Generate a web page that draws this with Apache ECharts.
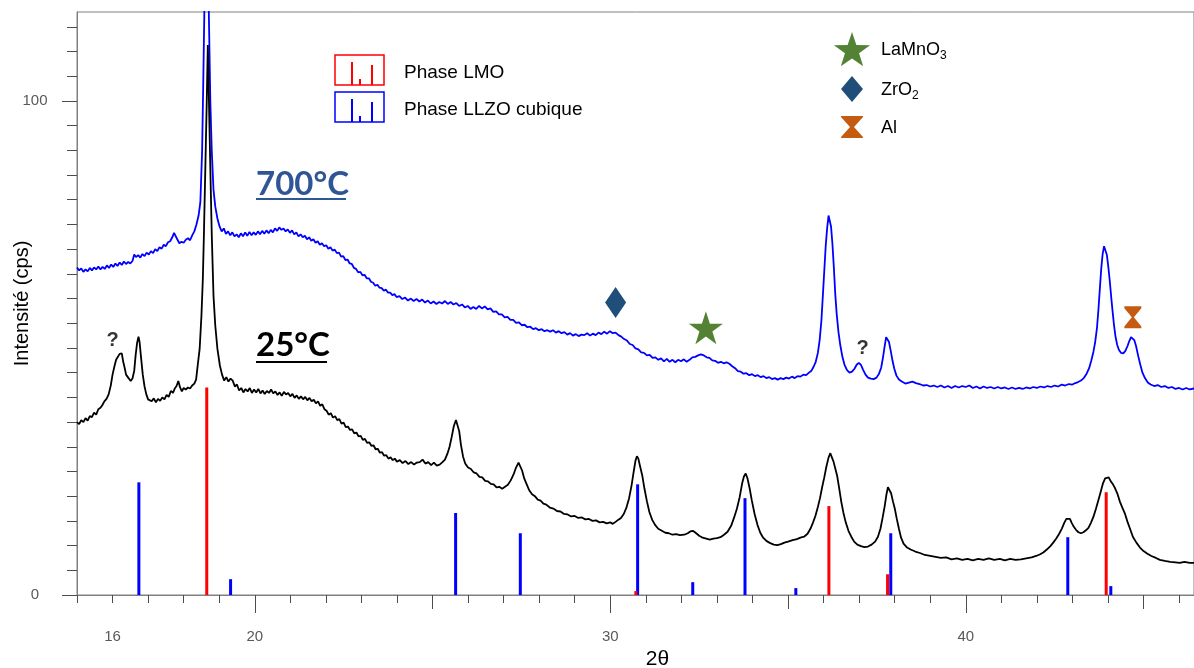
<!DOCTYPE html>
<html>
<head>
<meta charset="utf-8">
<script src="https://cdn.jsdelivr.net/npm/echarts@6/dist/echarts.min.js"></script>
<style>
  html, body { margin: 0; padding: 0; background: #ffffff; }
  #chart { width: 1194px; height: 668px; }
</style>
</head>
<body>
<div id="chart"></div>
<script>
// XRD scan of the pellet at 25 °C, [2θ (°), intensity (cps)]
const scan25 = [
  [15.00,35.0],[15.06,34.6],[15.12,35.4],[15.18,35.0],[15.24,35.8],[15.30,35.3],[15.36,36.2],[15.42,36.0],[15.48,36.9],[15.54,36.5],
  [15.60,37.6],[15.66,37.9],[15.71,38.4],[15.77,39.2],[15.83,39.7],[15.89,40.6],[15.95,42.4],[16.00,44.6],[16.05,46.2],[16.10,47.6],
  [16.15,47.9],[16.20,48.8],[16.23,48.4],[16.26,48.9],[16.30,47.2],[16.34,46.0],[16.38,44.6],[16.44,44.0],[16.51,43.3],[16.56,43.8],
  [16.61,45.4],[16.65,48.6],[16.69,51.0],[16.73,52.3],[16.76,51.2],[16.80,48.2],[16.85,44.6],[16.90,42.2],[16.95,40.6],[17.00,39.6],
  [17.05,39.9],[17.10,39.2],[17.16,39.8],[17.22,39.0],[17.28,39.7],[17.34,39.3],[17.40,40.0],[17.46,39.6],[17.52,40.5],[17.58,40.1],
  [17.64,41.3],[17.70,40.9],[17.75,41.8],[17.80,42.3],[17.85,43.3],[17.90,42.0],[17.95,41.2],[18.00,41.9],[18.06,41.6],[18.12,42.0],
  [18.18,41.8],[18.24,42.4],[18.30,42.8],[18.35,43.6],[18.40,46.8],[18.45,49.8],[18.50,56.5],[18.54,64.0],[18.57,73.0],[18.61,86.5],
  [18.65,100.0],[18.68,111.3],[18.71,100.5],[18.75,86.5],[18.79,73.1],[18.84,60.5],[18.89,54.5],[18.95,49.8],[19.02,46.4],[19.08,44.6],
  [19.14,43.4],[19.20,44.1],[19.26,43.2],[19.32,43.8],[19.38,43.4],[19.44,42.2],[19.50,42.6],[19.56,41.4],[19.62,41.9],[19.68,41.0],
  [19.74,41.7],[19.80,41.2],[19.86,41.9],[19.92,40.9],[19.98,41.6],[20.04,41.0],[20.10,41.7],[20.16,40.8],[20.22,41.4],[20.28,40.7],
  [20.34,41.3],[20.40,40.9],[20.46,41.6],[20.52,40.8],[20.58,41.2],[20.64,40.5],[20.70,41.0],[20.76,40.3],[20.82,41.1],[20.88,40.6],
  [20.94,40.9],[21.00,40.2],[21.06,40.7],[21.12,39.9],[21.18,40.4],[21.24,39.7],[21.30,40.2],[21.36,39.6],[21.42,40.1],[21.48,39.4],
  [21.54,39.9],[21.60,39.2],[21.66,39.5],[21.72,38.8],[21.78,39.2],[21.84,38.3],[21.90,38.6],[21.96,37.6],[22.02,37.3],[22.08,36.5],
  [22.14,36.8],[22.20,35.9],[22.26,36.2],[22.32,35.4],[22.38,35.6],[22.44,34.7],[22.50,34.9],[22.56,34.0],[22.62,34.1],[22.68,33.4],
  [22.74,33.5],[22.80,32.7],[22.86,32.9],[22.92,32.1],[22.98,32.2],[23.04,31.4],[23.10,31.6],[23.16,30.8],[23.22,30.9],[23.28,30.2],
  [23.34,30.3],[23.40,29.5],[23.46,29.6],[23.52,28.8],[23.58,28.9],[23.64,28.2],[23.70,28.3],[23.76,27.6],[23.82,27.9],[23.88,27.3],
  [23.94,27.6],[24.00,27.0],[24.08,27.3],[24.16,26.7],[24.24,27.1],[24.32,26.5],[24.40,26.9],[24.48,26.4],[24.56,26.8],[24.64,26.9],
  [24.72,27.4],[24.80,26.6],[24.88,26.9],[24.96,26.3],[25.04,26.8],[25.12,26.2],[25.20,26.4],[25.28,26.9],[25.35,27.4],[25.42,28.6],
  [25.48,30.0],[25.54,32.0],[25.60,34.2],[25.66,35.4],[25.70,35.0],[25.75,33.2],[25.80,30.4],[25.86,28.0],[25.92,26.6],[26.00,25.8],
  [26.08,25.5],[26.16,24.8],[26.24,24.6],[26.32,23.9],[26.40,23.8],[26.48,23.1],[26.56,23.0],[26.64,22.5],[26.72,22.4],[26.80,21.8],
  [26.88,21.9],[26.96,21.5],[27.04,21.9],[27.12,22.3],[27.20,23.2],[27.28,24.4],[27.35,25.8],[27.42,26.8],[27.47,26.6],[27.52,25.2],
  [27.58,23.6],[27.65,22.4],[27.72,21.2],[27.80,20.4],[27.88,20.0],[27.96,19.3],[28.04,19.1],[28.12,18.5],[28.20,18.3],[28.30,17.7],
  [28.40,17.5],[28.50,17.0],[28.60,16.9],[28.70,16.4],[28.80,16.3],[28.90,15.9],[29.00,16.0],[29.10,15.6],[29.20,15.7],[29.30,15.3],
  [29.40,15.4],[29.50,15.0],[29.60,15.1],[29.70,14.7],[29.80,14.8],[29.90,14.5],[30.00,14.7],[30.07,14.4],[30.15,14.8],[30.22,15.2],
  [30.30,15.6],[30.38,16.4],[30.46,17.8],[30.53,19.6],[30.60,22.2],[30.66,25.0],[30.71,27.2],[30.75,28.1],[30.79,27.6],[30.84,26.0],
  [30.90,24.2],[30.96,21.6],[31.03,19.0],[31.10,16.8],[31.18,15.2],[31.26,14.2],[31.35,13.4],[31.45,13.0],[31.55,12.6],[31.65,12.5],
  [31.75,12.2],[31.85,12.3],[31.96,12.1],[32.08,12.2],[32.18,12.5],[32.26,12.9],[32.32,13.0],[32.40,12.6],[32.50,12.0],[32.60,11.6],
  [32.70,11.4],[32.80,11.2],[32.90,11.4],[33.00,11.5],[33.10,11.7],[33.20,12.2],[33.30,12.8],[33.40,14.0],[33.48,15.6],[33.56,17.4],
  [33.64,19.8],[33.71,22.6],[33.76,24.0],[33.81,24.6],[33.86,23.6],[33.92,21.6],[33.98,19.2],[34.06,16.4],[34.14,14.2],[34.22,12.6],
  [34.30,11.6],[34.40,10.9],[34.50,10.5],[34.60,10.2],[34.70,10.1],[34.80,10.3],[34.90,10.6],[35.00,10.8],[35.13,11.1],[35.25,11.3],
  [35.35,11.6],[35.45,11.8],[35.55,12.4],[35.63,13.4],[35.70,14.6],[35.77,16.0],[35.84,17.8],[35.90,19.6],[35.96,21.8],[36.02,23.8],
  [36.08,26.0],[36.14,27.8],[36.19,28.7],[36.23,28.4],[36.28,27.0],[36.33,25.6],[36.38,24.2],[36.44,21.6],[36.50,18.8],[36.56,16.6],
  [36.62,14.8],[36.70,13.0],[36.78,11.8],[36.86,10.8],[36.95,10.2],[37.05,9.9],[37.15,9.7],[37.25,9.8],[37.35,10.2],[37.45,10.8],
  [37.53,11.8],[37.60,13.4],[37.66,15.6],[37.72,18.0],[37.77,20.4],[37.81,21.8],[37.85,21.6],[37.90,20.6],[37.95,19.0],[38.00,17.6],
  [38.06,15.4],[38.12,13.4],[38.18,11.6],[38.25,10.4],[38.35,9.6],[38.45,9.2],[38.58,8.8],[38.71,8.5],[38.85,8.1],[39.00,7.9],
  [39.15,7.7],[39.30,7.5],[39.45,7.6],[39.60,7.2],[39.75,7.4],[39.90,7.1],[40.05,7.3],[40.20,7.0],[40.35,7.3],[40.50,7.1],
  [40.65,7.4],[40.80,7.1],[40.96,7.3],[41.10,7.0],[41.25,7.3],[41.40,7.1],[41.55,7.2],[41.70,7.4],[41.85,7.6],[41.98,7.9],
  [42.08,8.2],[42.18,8.6],[42.28,9.2],[42.38,9.9],[42.46,10.6],[42.54,11.4],[42.62,12.3],[42.70,13.4],[42.77,14.6],[42.83,15.4],
  [42.88,15.8],[42.93,15.4],[42.98,14.6],[43.04,13.8],[43.10,13.2],[43.17,12.7],[43.24,12.5],[43.31,12.7],[43.38,13.1],[43.45,13.6],
  [43.52,14.6],[43.59,15.8],[43.66,17.4],[43.73,19.2],[43.80,21.0],[43.86,22.6],[43.92,23.6],[43.97,24.0],[44.02,23.8],[44.08,23.0],
  [44.14,22.4],[44.20,21.6],[44.27,20.4],[44.34,18.8],[44.41,17.6],[44.48,16.4],[44.55,14.8],[44.62,13.4],[44.70,11.8],[44.80,10.6],
  [44.90,9.6],[45.00,8.9],[45.10,8.4],[45.22,7.9],[45.35,7.5],[45.46,7.1],[45.60,6.9],[45.75,6.7],[45.90,6.6],[46.02,6.5],
  [46.15,6.7],[46.30,6.5],[46.42,6.5]
];

// XRD scan after annealing at 700 °C, [2θ (°), intensity (cps)]
const scan700 = [
  [15.00,66.3],[15.06,65.7],[15.12,66.1],[15.18,65.4],[15.24,65.9],[15.30,65.5],[15.36,66.2],[15.42,65.7],[15.48,66.3],[15.54,65.9],
  [15.60,66.5],[15.66,65.9],[15.72,66.4],[15.78,66.0],[15.84,66.7],[15.90,66.2],[15.96,66.9],[16.02,66.4],[16.08,67.1],[16.14,66.6],
  [16.20,67.3],[16.26,66.8],[16.32,67.5],[16.38,67.0],[16.44,67.4],[16.50,67.1],[16.56,67.6],[16.61,68.9],[16.66,68.4],[16.72,68.8],
  [16.78,68.3],[16.84,69.0],[16.90,68.6],[16.96,69.3],[17.02,68.9],[17.08,69.6],[17.14,69.2],[17.20,70.0],[17.26,69.6],[17.32,70.4],
  [17.38,70.1],[17.44,70.9],[17.50,70.6],[17.56,71.4],[17.62,71.6],[17.68,72.4],[17.73,73.3],[17.77,73.0],[17.82,72.0],[17.88,71.2],
  [17.94,71.5],[18.00,71.3],[18.06,71.9],[18.12,72.2],[18.18,71.8],[18.24,72.8],[18.30,73.6],[18.36,75.0],[18.42,76.8],[18.47,79.5],
  [18.52,90.0],[18.55,103.0],[18.58,117.0],[18.61,135.0],[18.645,160.0],[18.68,135.0],[18.71,117.0],[18.75,100.0],[18.79,90.0],[18.84,82.0],
  [18.89,78.6],[18.95,76.2],[19.01,74.6],[19.07,73.6],[19.13,74.2],[19.19,73.1],[19.25,73.6],[19.31,72.8],[19.37,73.4],[19.43,72.6],
  [19.49,73.0],[19.55,72.4],[19.61,73.2],[19.67,72.6],[19.73,73.4],[19.79,72.7],[19.85,73.5],[19.91,72.8],[19.97,73.4],[20.03,72.9],
  [20.09,73.6],[20.15,73.0],[20.21,73.7],[20.27,73.1],[20.33,73.8],[20.39,73.2],[20.45,73.9],[20.51,73.4],[20.57,74.2],[20.63,73.7],
  [20.69,74.4],[20.75,73.9],[20.81,74.2],[20.87,73.6],[20.93,74.0],[20.99,73.3],[21.05,73.8],[21.11,73.0],[21.17,73.4],[21.23,72.6],
  [21.29,73.0],[21.35,72.4],[21.41,72.7],[21.47,72.0],[21.53,72.4],[21.59,71.7],[21.65,72.0],[21.71,71.3],[21.77,71.6],[21.83,70.9],
  [21.89,71.2],[21.95,70.6],[22.01,70.8],[22.07,70.1],[22.13,70.4],[22.19,69.7],[22.25,69.9],[22.31,69.2],[22.37,69.3],[22.43,68.5],
  [22.49,68.6],[22.55,67.8],[22.61,67.9],[22.67,67.1],[22.73,67.0],[22.79,66.2],[22.85,66.0],[22.91,65.3],[22.97,65.4],[23.03,64.7],
  [23.09,64.8],[23.15,64.1],[23.21,64.1],[23.27,63.4],[23.33,63.2],[23.39,62.6],[23.45,62.8],[23.51,62.2],[23.57,62.1],[23.63,61.6],
  [23.69,61.8],[23.75,61.2],[23.81,61.2],[23.87,60.7],[23.93,60.9],[23.99,60.3],[24.07,60.5],[24.15,59.9],[24.23,60.2],[24.31,59.6],
  [24.39,60.0],[24.47,59.5],[24.55,59.9],[24.63,59.4],[24.71,59.8],[24.79,59.2],[24.87,59.6],[24.95,59.0],[25.03,59.4],[25.11,58.9],
  [25.19,59.3],[25.27,59.0],[25.35,59.5],[25.43,58.9],[25.51,59.3],[25.59,58.8],[25.67,59.1],[25.75,58.5],[25.83,58.8],[25.91,58.2],
  [25.99,58.5],[26.07,57.9],[26.15,58.3],[26.23,57.9],[26.31,58.5],[26.39,58.0],[26.47,58.4],[26.55,57.8],[26.63,58.0],[26.71,57.3],
  [26.79,57.4],[26.87,56.8],[26.95,56.8],[27.03,56.2],[27.11,56.3],[27.19,55.7],[27.27,55.7],[27.35,55.1],[27.43,55.2],[27.51,54.6],
  [27.59,54.7],[27.67,54.2],[27.75,54.3],[27.83,53.8],[27.91,54.0],[27.99,53.6],[28.07,53.8],[28.15,53.4],[28.23,53.6],[28.31,53.3],
  [28.39,53.6],[28.47,53.1],[28.55,53.4],[28.63,53.0],[28.71,53.2],[28.79,52.7],[28.87,53.0],[28.95,52.5],[29.03,52.8],[29.11,52.4],
  [29.19,52.7],[29.27,52.6],[29.35,53.0],[29.43,52.5],[29.51,52.9],[29.59,52.6],[29.67,53.1],[29.75,52.8],[29.83,53.3],[29.91,52.9],
  [29.99,53.4],[30.07,53.0],[30.15,53.1],[30.23,52.6],[30.31,52.3],[30.39,51.8],[30.47,51.5],[30.55,50.8],[30.63,50.6],[30.71,49.9],
  [30.79,49.7],[30.87,49.1],[30.95,49.0],[31.03,48.5],[31.11,48.6],[31.19,48.0],[31.27,48.1],[31.35,47.6],[31.43,47.9],[31.51,47.3],
  [31.59,47.8],[31.67,47.2],[31.75,47.6],[31.83,47.1],[31.91,47.6],[31.99,47.3],[32.07,47.7],[32.15,47.2],[32.23,47.6],[32.31,48.1],
  [32.39,48.2],[32.47,48.5],[32.55,48.7],[32.63,48.5],[32.71,48.1],[32.79,48.0],[32.87,47.5],[32.95,47.4],[33.03,47.0],[33.11,47.2],
  [33.19,46.9],[33.27,47.1],[33.35,46.8],[33.43,46.3],[33.51,45.9],[33.59,45.3],[33.67,45.2],[33.75,44.8],[33.83,44.9],[33.91,44.5],
  [33.99,44.7],[34.07,44.3],[34.15,44.5],[34.23,44.1],[34.31,44.3],[34.39,43.9],[34.47,44.1],[34.55,43.7],[34.63,43.9],[34.71,43.6],
  [34.79,43.9],[34.87,43.7],[34.95,44.0],[35.03,43.8],[35.11,44.2],[35.19,43.9],[35.27,44.3],[35.35,44.2],[35.43,44.6],[35.51,44.5],
  [35.59,45.0],[35.66,45.4],[35.72,46.2],[35.78,47.2],[35.84,49.0],[35.89,51.6],[35.94,55.6],[35.98,60.6],[36.02,65.6],[36.06,70.6],
  [36.10,74.2],[36.14,76.8],[36.17,76.6],[36.21,74.6],[36.25,71.0],[36.29,66.2],[36.33,60.8],[36.37,56.8],[36.42,53.2],[36.47,50.6],
  [36.53,48.2],[36.59,46.6],[36.66,45.5],[36.73,45.0],[36.80,45.2],[36.87,45.8],[36.93,46.6],[36.99,47.0],[37.05,46.6],[37.11,45.6],
  [37.18,44.6],[37.25,44.0],[37.33,43.8],[37.41,43.7],[37.49,44.0],[37.56,44.8],[37.62,46.0],[37.67,48.0],[37.72,50.4],[37.76,52.2],
  [37.80,52.4],[37.84,51.2],[37.89,49.4],[37.94,47.4],[37.99,45.8],[38.05,44.4],[38.12,43.6],[38.20,43.2],[38.30,42.8],[38.40,43.0],
  [38.50,43.2],[38.60,42.9],[38.70,42.7],[38.80,42.4],[38.90,42.5],[39.00,42.2],[39.10,42.4],[39.20,42.1],[39.30,42.4],[39.40,42.0],
  [39.50,42.3],[39.60,41.9],[39.70,42.3],[39.80,42.0],[39.90,42.3],[40.00,42.1],[40.10,42.4],[40.20,41.9],[40.30,42.2],[40.40,41.8],
  [40.50,42.2],[40.60,41.9],[40.70,42.1],[40.80,41.8],[40.90,42.1],[41.00,41.8],[41.10,42.0],[41.20,41.7],[41.30,42.0],[41.40,41.7],
  [41.50,41.9],[41.60,41.7],[41.70,42.0],[41.80,41.8],[41.90,42.1],[42.00,41.9],[42.10,42.2],[42.20,42.0],[42.30,42.3],[42.40,42.1],
  [42.50,42.4],[42.60,42.2],[42.70,42.6],[42.80,42.4],[42.90,42.7],[43.00,42.6],[43.08,42.9],[43.16,43.1],[43.24,43.4],[43.32,43.9],
  [43.40,44.8],[43.47,45.9],[43.53,47.4],[43.59,49.2],[43.64,51.2],[43.69,54.0],[43.73,57.6],[43.77,61.8],[43.81,66.0],[43.85,69.0],
  [43.89,70.6],[43.93,70.4],[43.97,68.8],[44.01,66.4],[44.05,63.6],[44.09,60.4],[44.13,57.4],[44.17,54.6],[44.21,52.4],[44.26,50.6],
  [44.31,49.6],[44.37,49.0],[44.43,48.9],[44.49,49.4],[44.55,50.4],[44.60,51.4],[44.65,52.2],[44.69,52.3],[44.74,51.6],[44.79,50.4],
  [44.85,48.4],[44.91,46.6],[44.97,45.0],[45.04,43.9],[45.12,43.0],[45.20,42.6],[45.30,42.3],[45.40,42.5],[45.50,42.1],[45.60,42.3],
  [45.70,41.9],[45.80,42.1],[45.90,41.7],[46.00,41.9],[46.10,41.6],[46.20,41.9],[46.30,41.6],[46.42,41.8]
];

// Reference stick patterns, [2θ (°), relative intensity]
const llzoCubicRefs = [[16.74,22.8],[19.32,3.2],[25.65,16.6],[27.47,12.5],[30.77,22.4],[32.32,2.6],[33.79,19.6],[35.22,1.4],[37.89,12.5],[42.87,11.7],[44.08,1.8]];
const lmoRefs = [[18.65,42.0],[30.72,0.8],[36.15,18.0],[37.80,4.2],[43.95,20.8]];

// Secondary-phase markers above the 700 °C scan, [2θ, cps]
const zro2Mark = [30.15, 59.2];
const lamno3Mark = [32.69, 54.1];
const alMark = [44.70, 56.2];
// Unindexed reflections
const unknownMarks = [[16.00, 51.5], [37.10, 49.9]];

// Axis ticks and labels
const xRange = [15, 46.42];
const yRange = [0, 118];
const xMinorTicks = [15,16,17,18,19,21,22,23,24,26,27,28,29,31,32,33,34,36,37,38,39,41,42,43,44,46];
const xMidTicks = [25, 35, 45];
const xMajorTicks = [20, 30, 40];
const xTickLabels = [16, 20, 30, 40];
const yMinorTicks = [5,10,15,20,25,30,35,40,45,50,55,60,65,70,75,80,85,90,95,105,110,115];
const yMajorTicks = [0, 100];

const AXIS_GREY = '#808080';
const TICK_GREY = '#4d4d4d';
const LABEL_GREY = '#595959';
const RED = '#ff0000';
const BLUE = '#0000ff';

const STAR_PATH = 'path://M50,0 L61.17,34.63 L97.55,34.55 L68.07,55.87 L79.39,90.45 L50,69 L20.61,90.45 L31.93,55.87 L2.45,34.55 L38.83,34.63 Z';
const HOURGLASS_PATH = 'path://M0,0 L10,0 L10,1 L5.6,6 L10,11 L10,12 L0,12 L0,11 L4.4,6 L0,1 Z';

function xAxisLayer(tickValues, tickLength, labelValues) {
  return {
    type: 'value', min: xRange[0], max: xRange[1], position: 'bottom',
    axisLine: { show: true, onZero: false, lineStyle: { color: AXIS_GREY, width: 1 } },
    axisTick: { show: true, customValues: tickValues, length: tickLength, lineStyle: { color: TICK_GREY, width: 1 } },
    axisLabel: labelValues
      ? { show: true, customValues: labelValues, margin: 34, color: LABEL_GREY, fontSize: 15, fontFamily: 'Liberation Sans, Arial, sans-serif' }
      : { show: false },
    splitLine: { show: false }
  };
}

function yAxisLayer(tickValues, tickLength, labelValues) {
  return {
    type: 'value', min: yRange[0], max: yRange[1], position: 'left',
    axisLine: { show: true, onZero: false, lineStyle: { color: AXIS_GREY, width: 1 } },
    axisTick: { show: true, customValues: tickValues, length: tickLength, lineStyle: { color: TICK_GREY, width: 1 } },
    axisLabel: labelValues
      ? { show: true, customValues: labelValues, margin: 42, align: 'center', color: LABEL_GREY, fontSize: 15, fontFamily: 'Liberation Sans, Arial, sans-serif' }
      : { show: false },
    splitLine: { show: false }
  };
}

// Stick pattern drawn as thin rectangles from the baseline
function stickSeries(name, data, color) {
  return {
    type: 'custom', name: name, data: data, xAxisIndex: 0, yAxisIndex: 0, z: 1, silent: true,
    encode: { x: 0, y: 1 },
    renderItem: function (params, api) {
      const top = api.coord([api.value(0), api.value(1)]);
      const base = api.coord([api.value(0), 0]);
      return {
        type: 'rect',
        shape: { x: top[0] - 1.5, y: top[1], width: 3, height: base[1] - top[1] },
        style: { fill: color }
      };
    }
  };
}

function starPoints(cx, cy, rOuter, rInner) {
  const pts = [];
  for (let i = 0; i < 10; i++) {
    const a = -Math.PI / 2 + i * Math.PI / 5;
    const r = i % 2 === 0 ? rOuter : rInner;
    pts.push([cx + r * Math.cos(a), cy + r * Math.sin(a)]);
  }
  return pts;
}

// Small stick-pattern icon used in the phase legend
function phaseIcon(x, y, color) {
  return [
    { type: 'rect', shape: { x: x, y: y, width: 49, height: 30 }, style: { fill: 'none', stroke: color, lineWidth: 1.5 } },
    { type: 'line', shape: { x1: x + 17, y1: y + 7, x2: x + 17, y2: y + 30 }, style: { stroke: color, lineWidth: 2 } },
    { type: 'line', shape: { x1: x + 25, y1: y + 24, x2: x + 25, y2: y + 30 }, style: { stroke: color, lineWidth: 2 } },
    { type: 'line', shape: { x1: x + 37, y1: y + 10, x2: x + 37, y2: y + 30 }, style: { stroke: color, lineWidth: 2 } }
  ];
}

const legendFont = 'Liberation Sans, Arial, sans-serif';
const titleFont = 'Lato, "Open Sans", sans-serif';

const chart = echarts.init(document.getElementById('chart'), null, { renderer: 'canvas' });

chart.setOption({
  animation: false,
  backgroundColor: '#ffffff',
  grid: { left: 77, right: 0, top: 12, bottom: 73, show: true, borderColor: AXIS_GREY, borderWidth: 1, containLabel: false, outerBoundsMode: 'none' },
  xAxis: [
    Object.assign(xAxisLayer(xMinorTicks, 8, xTickLabels), {
      name: '2θ', nameLocation: 'middle', nameGap: 48,
      nameTextStyle: { color: '#000000', fontSize: 21, fontFamily: legendFont, padding: [0, 0, 0, 44] }
    }),
    xAxisLayer(xMidTicks, 14, null),
    xAxisLayer(xMajorTicks, 18, null)
  ],
  yAxis: [
    Object.assign(yAxisLayer(yMinorTicks, 10, null), {
      name: 'Intensité (cps)', nameLocation: 'middle', nameGap: 45,
      nameTextStyle: { color: '#000000', fontSize: 20, fontFamily: legendFont }
    }),
    yAxisLayer(yMajorTicks, 15, yMajorTicks)
  ],
  series: [
    stickSeries('Phase LLZO cubique', llzoCubicRefs, BLUE),
    stickSeries('Phase LMO', lmoRefs, RED),
    {
      type: 'line', name: '700°C', data: scan700, xAxisIndex: 0, yAxisIndex: 0,
      showSymbol: false, smooth: false, clip: true, z: 3,
      lineStyle: { color: BLUE, width: 1.8 }
    },
    {
      type: 'line', name: '25°C', data: scan25, xAxisIndex: 0, yAxisIndex: 0,
      showSymbol: false, smooth: false, clip: true, z: 3,
      lineStyle: { color: '#000000', width: 1.8 }
    },
    {
      type: 'scatter', name: 'phases', xAxisIndex: 0, yAxisIndex: 0, z: 5, silent: true,
      data: [
        { value: zro2Mark, symbol: 'diamond', symbolSize: [21, 31], itemStyle: { color: '#1f4e79', opacity: 1 } },
        { value: lamno3Mark, symbol: STAR_PATH, symbolSize: [34, 33], itemStyle: { color: '#548235', opacity: 1 } },
        { value: alMark, symbol: HOURGLASS_PATH, symbolSize: [17, 22], itemStyle: { color: '#c55a11', opacity: 1 } }
      ]
    },
    {
      type: 'scatter', name: 'unknown', xAxisIndex: 0, yAxisIndex: 0, z: 5, silent: true,
      symbolSize: 1, itemStyle: { color: 'rgba(0,0,0,0)' },
      data: unknownMarks,
      label: { show: true, position: 'inside', formatter: '?', color: '#000000', fontSize: 20, fontWeight: 'bold', fontFamily: legendFont }
    }
  ],
  graphic: [
    // Phase legend (stick patterns)
    ...phaseIcon(335, 55, RED),
    ...phaseIcon(335, 92, BLUE),
    { type: 'text', x: 404, y: 73, style: { text: 'Phase LMO', font: '19px ' + legendFont, fill: '#000000', verticalAlign: 'middle' } },
    { type: 'text', x: 404, y: 110, style: { text: 'Phase LLZO cubique', font: '19px ' + legendFont, fill: '#000000', verticalAlign: 'middle' } },
    // Secondary-phase legend
    { type: 'polygon', shape: { points: starPoints(852, 51, 19, 7.4) }, style: { fill: '#548235' } },
    { type: 'polygon', shape: { points: [[852, 76], [863, 89], [852, 102], [841, 89]] }, style: { fill: '#1f4e79' } },
    { type: 'polygon', shape: { points: [[841, 116], [863, 116], [863, 117], [854, 127], [863, 137], [863, 138], [841, 138], [841, 137], [850, 127], [841, 117]] }, style: { fill: '#c55a11' } },
    { type: 'text', x: 881, y: 50, style: { text: '{n|LaMnO}{s|3}', fill: '#000000', verticalAlign: 'middle',
      rich: { n: { fontSize: 18, fontFamily: legendFont, lineHeight: 24 }, s: { fontSize: 12, fontFamily: legendFont, lineHeight: 24, verticalAlign: 'bottom' } } } },
    { type: 'text', x: 881, y: 90, style: { text: '{n|ZrO}{s|2}', fill: '#000000', verticalAlign: 'middle',
      rich: { n: { fontSize: 18, fontFamily: legendFont, lineHeight: 24 }, s: { fontSize: 12, fontFamily: legendFont, lineHeight: 24, verticalAlign: 'bottom' } } } },
    { type: 'text', x: 881, y: 128, style: { text: 'Al', font: '18px ' + legendFont, fill: '#000000', verticalAlign: 'middle' } },
    // Temperature labels
    { type: 'text', x: 256, y: 184, style: { text: '700°C', font: 'bold 33px ' + titleFont, fill: '#2f5597', verticalAlign: 'middle' } },
    { type: 'line', shape: { x1: 256, y1: 199, x2: 346, y2: 199 }, style: { stroke: '#2f5597', lineWidth: 2 } },
    { type: 'text', x: 256, y: 345, style: { text: '25°C', font: 'bold 33px ' + titleFont, fill: '#000000', verticalAlign: 'middle' } },
    { type: 'line', shape: { x1: 256, y1: 362, x2: 327, y2: 362 }, style: { stroke: '#000000', lineWidth: 2 } }
  ]
});
</script>
</body>
</html>
